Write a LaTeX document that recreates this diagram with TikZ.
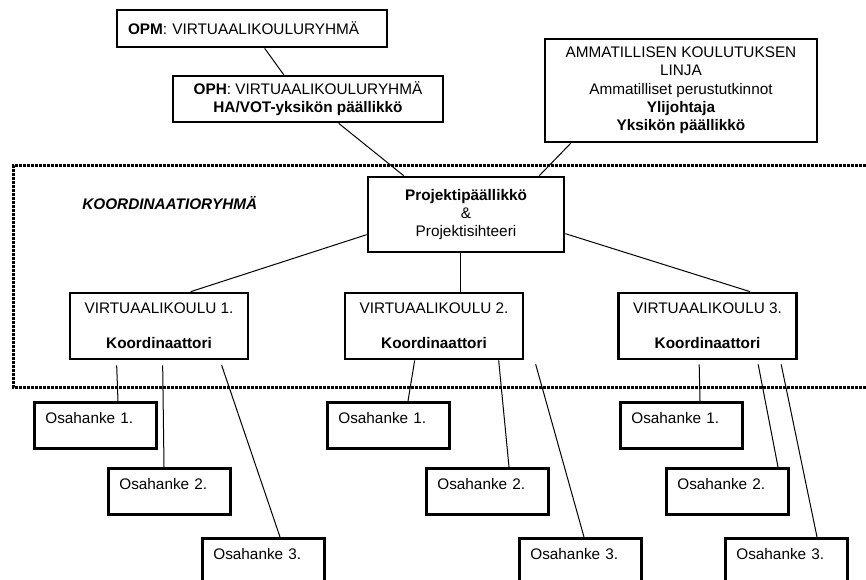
\documentclass[tikz,border=0pt]{standalone}
\usepackage{fontspec}
\setmainfont{Liberation Sans}
\tikzset{
  every node/.style={font=\fontsize{11.5pt}{13.7pt}\selectfont},
  box/.style={draw, line width=2pt, inner sep=0pt, align=center},
  osa/.style={draw, line width=2pt, anchor=north west, inner xsep=8.25pt, inner ysep=0pt,
    text width=75pt, align=left, minimum width=91.5pt, text height=16.1pt, text depth=18.4pt},
  vk/.style={box, minimum width=133.5pt, minimum height=49.5pt},
  conn/.style={line width=0.75pt},
  dots/.style={line width=2.25pt, dash pattern=on 2pt off 1pt}
}
\begin{document}
\begin{tikzpicture}[x=0.75pt, y=-0.75pt]
\clip (0,0) rectangle (866,580);
% coordination group frame
\draw[dots] (866,166) -- (13,166) -- (13,387) -- (866,387);
\node[anchor=west, inner sep=0pt] (koord) at (82,203) {\textbf{\textit{KOORDINAATIORYHMÄ}}};
% top boxes
\node[box, minimum width=202.5pt, minimum height=27.75pt, text width=186pt, align=left, inner xsep=8.25pt] (opm) at (252,28.5) {\textbf{OPM}: VIRTUAALIKOULURYHMÄ};
\node[box, minimum width=202.5pt, minimum height=34.5pt] (oph) at (308,99) {\textbf{OPH}: VIRTUAALIKOULURYHMÄ\\\textbf{HA/VOT-yksikön päällikkö}};
\node[box, minimum width=204pt, minimum height=77.25pt] (amm) at (681,90.5) {AMMATILLISEN KOULUTUKSEN\\LINJA\\Ammatilliset perustutkinnot\\\textbf{Ylijohtaja}\\\textbf{Yksikön päällikkö}};
\node[box, minimum width=147pt, minimum height=56.25pt] (proj) at (466,214.5) {\textbf{Projektipäällikkö}\\\&\\Projektisihteeri};
% virtual schools
\node[vk] (vk1) at (159,326) {VIRTUAALIKOULU 1.\\[12.5pt]\textbf{Koordinaattori}};
\node[vk] (vk2) at (434,326) {VIRTUAALIKOULU 2.\\[12.5pt]\textbf{Koordinaattori}};
\node[vk] (vk3) at (707.5,326) {VIRTUAALIKOULU 3.\\[12.5pt]\textbf{Koordinaattori}};
% sub-projects
\node[osa] (o11) at (33,401) {Osahanke 1.};
\node[osa] (o12) at (107,467) {Osahanke 2.};
\node[osa] (o13) at (201,537) {Osahanke 3.};
\node[osa] (o21) at (326,401) {Osahanke 1.};
\node[osa] (o22) at (425,467) {Osahanke 2.};
\node[osa] (o23) at (518,537) {Osahanke 3.};
\node[osa] (o31) at (619,401) {Osahanke 1.};
\node[osa] (o32) at (665,467) {Osahanke 2.};
\node[osa] (o33) at (724,537) {Osahanke 3.};
% connectors top
\draw[conn] ([shift={(149,0)}]opm.south west) -- ([shift={(112,0)}]oph.north west);
\draw[conn] ([shift={(167,0)}]oph.south west) -- ([shift={(37,0)}]proj.north west);
\draw[conn] ([shift={(27,0)}]amm.south west) -- ([shift={(-26,0)}]proj.north east);
\draw[conn] ([shift={(0,59)}]proj.north west) -- ([shift={(122,0)}]vk1.north west);
\draw[conn] ([shift={(94,0)}]proj.south west) -- ([shift={(117,0)}]vk2.north west);
\draw[conn] ([shift={(0,58)}]proj.north east) -- ([shift={(133,0)}]vk3.north west);
% connectors to sub-projects
\draw[conn] ([shift={(48,5)}]vk1.south west) -- ([shift={(85,0)}]o11.north west);
\draw[conn] ([shift={(94,5)}]vk1.south west) -- ([shift={(57,0)}]o12.north west);
\draw[conn] ([shift={(153,5)}]vk1.south west) -- ([shift={(79,0)}]o13.north west);
\draw[conn] ([shift={(71,0)}]vk2.south west) -- ([shift={(82,0)}]o21.north west);
\draw[conn] ([shift={(155,0)}]vk2.south west) -- ([shift={(84,0)}]o22.north west);
\draw[conn] ([shift={(192,4)}]vk2.south west) -- ([shift={(66,0)}]o23.north west);
\draw[conn] ([shift={(82,4)}]vk3.south west) -- ([shift={(81,0)}]o31.north west);
\draw[conn] ([shift={(141,4)}]vk3.south west) -- ([shift={(113,0)}]o32.north west);
\draw[conn] ([shift={(164,4)}]vk3.south west) -- ([shift={(93,0)}]o33.north west);
\end{tikzpicture}
\end{document}
